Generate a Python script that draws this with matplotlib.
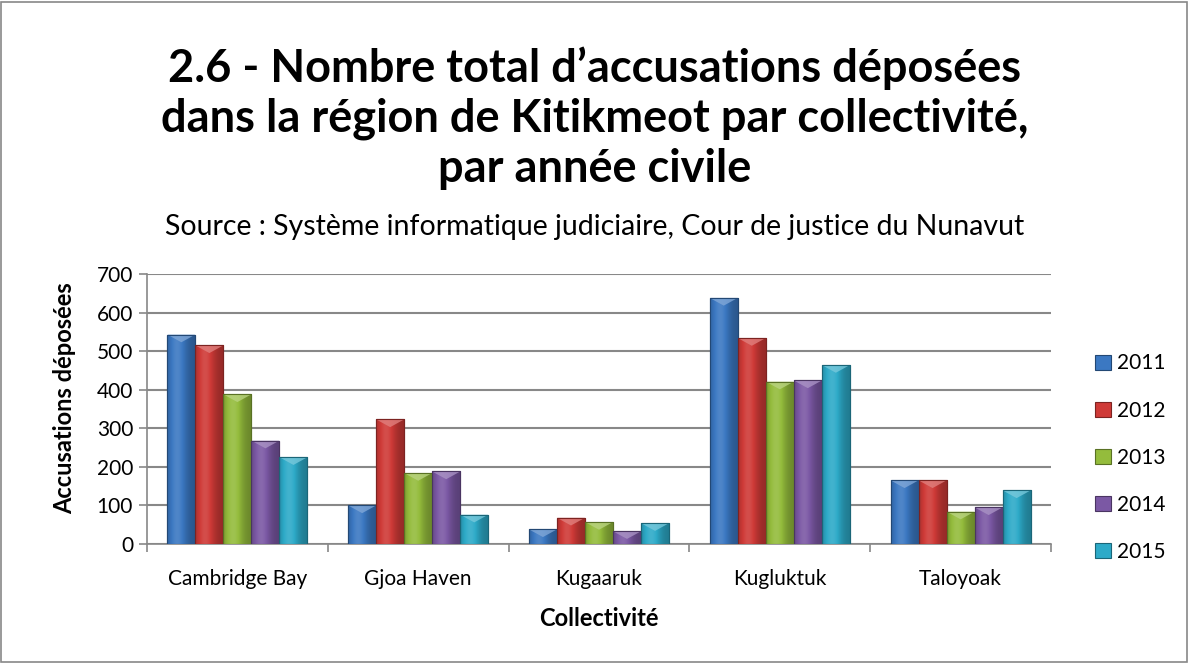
import numpy as np
import matplotlib
matplotlib.use("Agg")
import matplotlib.pyplot as plt
from matplotlib.patches import Rectangle, Polygon
from matplotlib.colors import to_rgb

plt.rcParams['font.family'] = ['Lato', 'DejaVu Sans']

# data
communities = ["Cambridge Bay", "Gjoa Haven", "Kugaaruk", "Kugluktuk", "Taloyoak"]
years = ["2011", "2012", "2013", "2014", "2015"]
v2011 = [543, 100, 38, 638, 165]
v2012 = [515, 323, 68, 534, 165]
v2013 = [388, 184, 57, 421, 84]
v2014 = [268, 188, 33, 424, 95]
v2015 = [225, 76, 54, 464, 139]
values = [v2011, v2012, v2013, v2014, v2015]
colors = ["#3B78C2", "#CF3A37", "#94BC3C", "#7B58A4", "#2DAAC8"]


def shade(c, f):
    r = np.array(to_rgb(c))
    if f < 1:
        return tuple(r * f)
    return tuple(r + (1 - r) * (f - 1))


fig = plt.figure(figsize=(11.89, 6.63), dpi=100)
fig.patches.append(Rectangle((0.001, 0.002), 0.997, 0.995, transform=fig.transFigure,
                             fill=False, edgecolor="#888888", linewidth=1.2))

ax = fig.add_axes([147 / 1189, 1 - 544 / 663, 904 / 1189, 270 / 663])
ax.set_xlim(-0.5, len(communities) - 0.5)
ax.set_ylim(0, 700)

x = np.arange(len(communities))
w = 0.155
# horizontal profile for the rounded look: dark edges, lighter left-centre
prof = np.linspace(0, 1, 64)
fac = 0.72 + 0.38 * np.exp(-((prof - 0.35) / 0.33) ** 2)
bevel = 20  # depth of the top chevron, data units

for i, (yr, vals) in enumerate(zip(years, values)):
    bars = ax.bar(x + (i - 2) * w, vals, width=w, color=colors[i],
                  edgecolor=shade(colors[i], 0.6), linewidth=0.8, label=yr, zorder=3)
    grad = np.array([[shade(colors[i], f) for f in fac]])
    for b in bars:
        x0, y0 = b.get_x(), b.get_y()
        bw, bh = b.get_width(), b.get_height()
        im = ax.imshow(grad, extent=[x0, x0 + bw, 0, bh], aspect="auto",
                       zorder=3.1, interpolation="bilinear")
        im.set_clip_path(b)
        d = min(bevel, bh * 0.6)
        tri = Polygon([[x0, bh], [x0 + bw, bh], [x0 + bw * 0.5, bh - d]],
                      closed=True, facecolor=shade(colors[i], 1.35),
                      edgecolor="none", alpha=0.8, zorder=3.2)
        ax.add_patch(tri)
        ax.add_patch(Rectangle((x0, 0), bw, bh, fill=False,
                               edgecolor=shade(colors[i], 0.6), linewidth=0.8,
                               zorder=3.3))

ax.set_xlim(-0.5, len(communities) - 0.5)
ax.set_ylim(0, 700)
ax.set_yticks(range(0, 701, 100))
ax.yaxis.grid(True, color="#888888", linewidth=1.5, zorder=0)
ax.set_axisbelow(True)
ax.set_xticks(x)
ax.set_xticklabels(communities, fontsize=15)
ax.set_xticks(np.arange(-0.5, len(communities), 1), minor=True)
ax.tick_params(axis="x", which="major", length=0, pad=18)
ax.tick_params(axis="x", which="minor", length=6, color="#888888", width=1.2)
ax.tick_params(axis="y", length=6, color="#888888", width=1.2, labelsize=15, pad=4)
for s in ["top", "right"]:
    ax.spines[s].set_visible(False)
for s in ["left", "bottom"]:
    ax.spines[s].set_color("#888888")
    ax.spines[s].set_linewidth(1.2)

ax.set_ylabel("Accusations déposées", fontsize=17, fontweight="bold")
ax.yaxis.set_label_coords(-0.078, 0.54)
ax.set_xlabel("Collectivité", fontsize=17, fontweight="bold", labelpad=13)

fig.text(0.5, 1 - 118 / 663,
         "2.6 - Nombre total d\u2019accusations déposées\n"
         "dans la région de Kitikmeot par collectivité,\n"
         "par année civile",
         ha="center", va="center", fontsize=32.5, fontweight="bold", linespacing=1.22)
fig.text(0.5, 1 - 227 / 663,
         "Source : Système informatique judiciaire, Cour de justice du Nunavut",
         ha="center", va="center", fontsize=20.5)

ax.legend(loc="center left", bbox_to_anchor=(1.028, 0.32), frameon=False,
          fontsize=15, handlelength=0.75, handleheight=0.75, handletextpad=0.3,
          labelspacing=1.3)

fig.savefig("out.png", dpi=100)
